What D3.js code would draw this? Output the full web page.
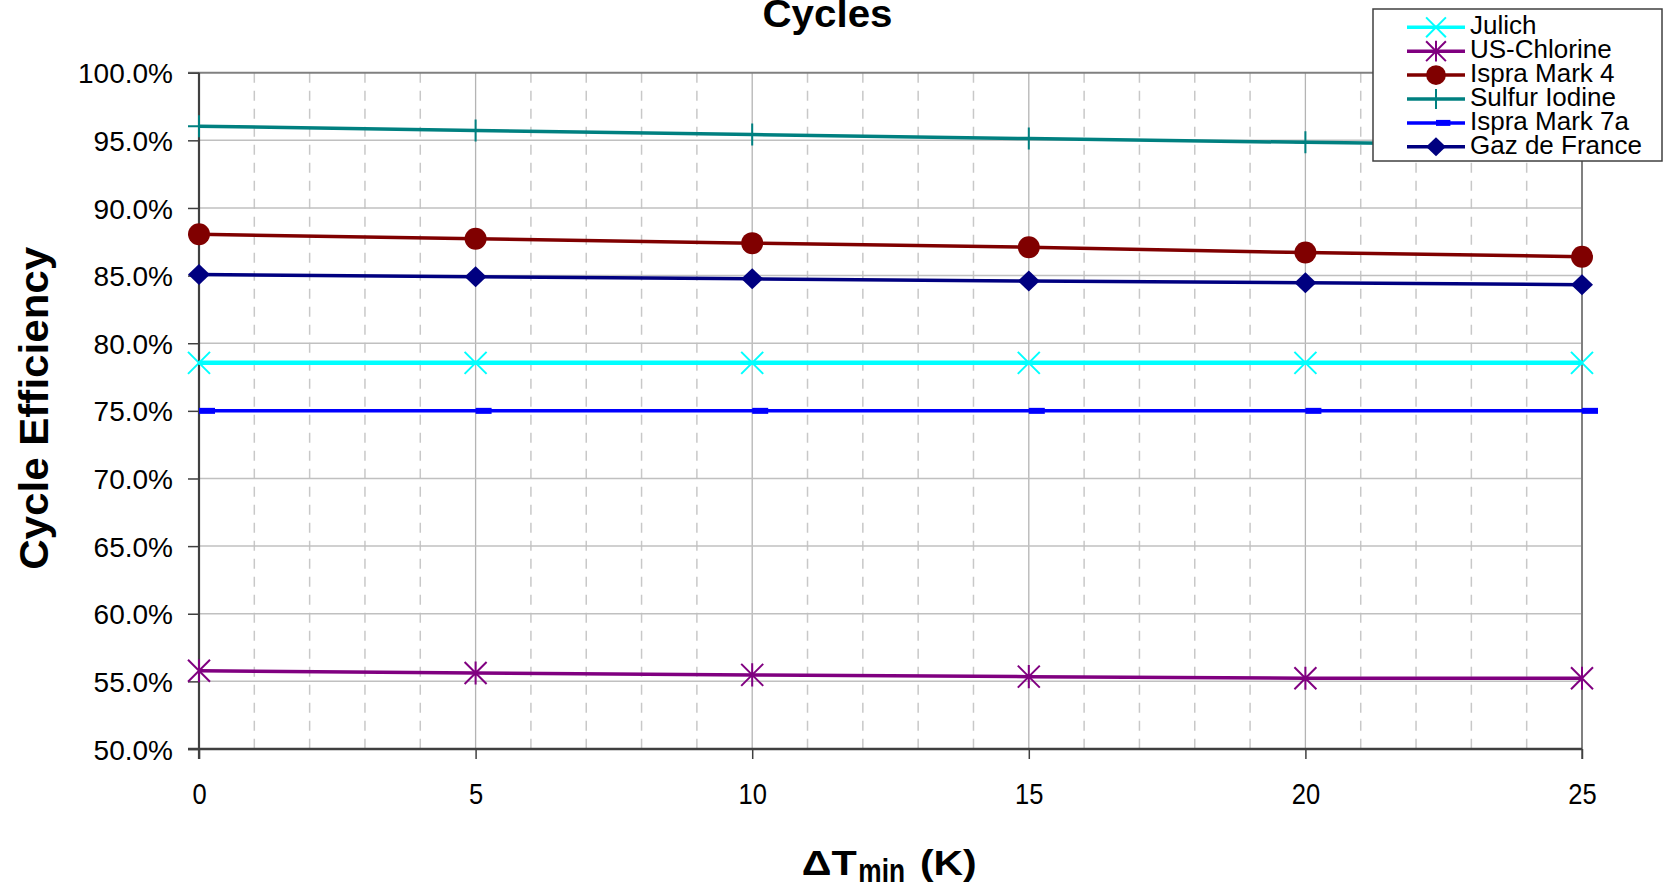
<!DOCTYPE html>
<html><head><meta charset="utf-8">
<script src="https://cdn.jsdelivr.net/npm/d3@7"></script>
<style>
html,body{margin:0;padding:0;background:#fff;overflow:hidden}
text{font-family:"Liberation Sans",Arial,sans-serif}
</style>
</head><body>
<svg id="chart" width="1663" height="886"></svg>
<script>
// ---------- data ----------
const xValues = [0, 5, 10, 15, 20, 25];
const julich       = [0.7855, 0.7855, 0.7855, 0.7855, 0.7855, 0.7855];
const usChlorine   = [0.5579, 0.5562, 0.5548, 0.5535, 0.5523, 0.5523];
const ispraMark4   = [0.8805, 0.8773, 0.8740, 0.8710, 0.8670, 0.8640];
const sulfurIodine = [0.9605, 0.9572, 0.9543, 0.9513, 0.9485, 0.9460];
const ispraMark7a  = [0.7500, 0.7500, 0.7500, 0.7500, 0.7500, 0.7500];
const gazDeFrance  = [0.8508, 0.8492, 0.8476, 0.8460, 0.8447, 0.8433];
const seriesNames  = ["Julich", "US-Chlorine", "Ispra Mark 4", "Sulfur Iodine", "Ispra Mark 7a", "Gaz de France"];
const seriesValues = [julich, usChlorine, ispraMark4, sulfurIodine, ispraMark7a, gazDeFrance];
const yTickValues  = [0.50, 0.55, 0.60, 0.65, 0.70, 0.75, 0.80, 0.85, 0.90, 0.95, 1.00];
const xTickValues  = [0, 5, 10, 15, 20, 25];
const xMinorValues = [1,2,3,4,6,7,8,9,11,12,13,14,16,17,18,19,21,22,23,24];
const chartTitle = "Cycles";
const yTitle = "Cycle Efficiency";

// ---------- styles ----------
const seriesColors  = ["#00FFFF", "#800080", "#800000", "#008080", "#0000FF", "#000080"];
const seriesMarkers = ["x", "asterisk", "circle", "plus", "dash", "diamond"];
const seriesWidths  = [4.5, 3.5, 3.5, 3.5, 3.5, 3.5];

const svg = d3.select("#chart");
svg.append("rect").attr("width", 1663).attr("height", 886).attr("fill", "#fff");

const x = d3.scaleLinear().domain([0, 25]).range([199, 1582]);
const y = d3.scaleLinear().domain([0.5, 1.0]).range([749, 72.7]);

// ---------- grid ----------
const grid = svg.append("g");
grid.selectAll(".minor").data(xMinorValues).join("line")
  .attr("x1", d => x(d)).attr("x2", d => x(d))
  .attr("y1", y(1.0)).attr("y2", y(0.5))
  .attr("stroke", "#c8c8c8").attr("stroke-width", 1.5).attr("stroke-dasharray", "10,8");
grid.selectAll(".major").data(xTickValues.filter(d => d > 0 && d < 25)).join("line")
  .attr("x1", d => x(d)).attr("x2", d => x(d))
  .attr("y1", y(1.0)).attr("y2", y(0.5))
  .attr("stroke", "#b4b4b4").attr("stroke-width", 1.3);
grid.selectAll(".hgrid").data(yTickValues.filter(d => d > 0.5 && d < 1.0)).join("line")
  .attr("x1", x(0)).attr("x2", x(25))
  .attr("y1", d => y(d)).attr("y2", d => y(d))
  .attr("stroke", "#c0c0c0").attr("stroke-width", 1.5);
// plot border top & right
grid.append("line").attr("x1", x(0) - 11).attr("x2", x(25)).attr("y1", y(1.0)).attr("y2", y(1.0))
  .attr("stroke", "#808080").attr("stroke-width", 2);
grid.append("line").attr("x1", x(25)).attr("x2", x(25)).attr("y1", y(1.0)).attr("y2", y(0.5) + 10)
  .attr("stroke", "#808080").attr("stroke-width", 2);

// ---------- axes ----------
const yAxis = d3.axisLeft(y).tickValues(yTickValues).tickFormat(d3.format(".1%"))
  .tickSizeInner(11).tickSizeOuter(0);
const gy = svg.append("g").attr("transform", `translate(${x(0)},0)`).call(yAxis);
gy.select(".domain").remove();
gy.selectAll(".tick line").attr("stroke", "#404040").attr("stroke-width", 1.5);
gy.selectAll(".tick text")
  .attr("fill", "#000").attr("font-size", 28)
  .attr("x", -26).attr("dy", "0.36em");

const xAxis = d3.axisBottom(x).tickValues(xTickValues).tickFormat(d3.format("d"))
  .tickSizeInner(10).tickSizeOuter(0);
const gx = svg.append("g").attr("transform", `translate(0,${y(0.5)})`).call(xAxis);
gx.select(".domain").remove();
gx.selectAll(".tick line").attr("stroke", "#404040").attr("stroke-width", 1.5);
gx.selectAll(".tick text")
  .attr("fill", "#000").attr("font-size", 29)
  .attr("transform", "scale(0.88,1)")
  .attr("y", 34).attr("dy", "0.71em");

// axis lines
svg.append("line").attr("x1", x(0)).attr("x2", x(0)).attr("y1", y(1.0)).attr("y2", y(0.5) + 10)
  .attr("stroke", "#404040").attr("stroke-width", 2.2);
svg.append("line").attr("x1", x(0) - 11).attr("x2", x(25)).attr("y1", y(0.5)).attr("y2", y(0.5))
  .attr("stroke", "#404040").attr("stroke-width", 2.5);

// ---------- markers ----------
function drawMarker(g, type, cx, cy, color, s) {
  const h = 11 * s;
  if (type === "x") {
    g.append("path").attr("d", `M${cx-h},${cy-h}L${cx+h},${cy+h}M${cx-h},${cy+h}L${cx+h},${cy-h}`)
      .attr("stroke", color).attr("stroke-width", 2).attr("fill", "none");
  } else if (type === "asterisk") {
    g.append("path").attr("d", `M${cx-h},${cy-h}L${cx+h},${cy+h}M${cx-h},${cy+h}L${cx+h},${cy-h}M${cx},${cy-h*1.05}L${cx},${cy+h*1.05}`)
      .attr("stroke", color).attr("stroke-width", 2).attr("fill", "none");
  } else if (type === "circle") {
    g.append("circle").attr("cx", cx).attr("cy", cy).attr("r", 11 * s).attr("fill", color);
  } else if (type === "plus") {
    g.append("path").attr("d", `M${cx-h},${cy}L${cx+h},${cy}M${cx},${cy-h}L${cx},${cy+h}`)
      .attr("stroke", color).attr("stroke-width", 2).attr("fill", "none");
  } else if (type === "dash") {
    g.append("rect").attr("x", cx).attr("y", cy - 3).attr("width", 16 * s).attr("height", 6).attr("fill", color);
  } else if (type === "diamond") {
    g.append("path").attr("d", `M${cx},${cy-10.5*s}L${cx+h},${cy}L${cx},${cy+10.5*s}L${cx-h},${cy}Z`)
      .attr("fill", color);
  }
}

// ---------- series ----------
const line = d3.line().x((d, i) => x(xValues[i])).y(d => y(d));
const gs = svg.append("g");
seriesValues.forEach((vals, si) => {
  gs.append("path").attr("d", line(vals)).attr("fill", "none")
    .attr("stroke", seriesColors[si]).attr("stroke-width", seriesWidths[si])
    .attr("stroke-linejoin", "round");
  vals.forEach((v, i) => drawMarker(gs, seriesMarkers[si], x(xValues[i]), y(v), seriesColors[si], 1));
});

// ---------- legend ----------
const lg = svg.append("g");
lg.append("rect").attr("x", 1373).attr("y", 9).attr("width", 289).attr("height", 152)
  .attr("fill", "#fff").attr("stroke", "#404040").attr("stroke-width", 1.5);
seriesNames.forEach((name, i) => {
  const cy = 27.3 + i * 23.9;
  lg.append("line").attr("x1", 1407).attr("x2", 1465).attr("y1", cy).attr("y2", cy)
    .attr("stroke", seriesColors[i]).attr("stroke-width", 3.5);
  drawMarker(lg, seriesMarkers[i], 1436, cy, seriesColors[i], 0.9);
  lg.append("text").attr("x", 1470).attr("y", cy + 6.8).attr("font-size", 26)
    .attr("fill", "#000").text(name);
});

// ---------- titles ----------
svg.append("text").attr("x", 827.5).attr("y", 27).attr("text-anchor", "middle")
  .attr("font-size", 39).attr("font-weight", "bold")
  .attr("textLength", 130).attr("lengthAdjust", "spacingAndGlyphs").text(chartTitle);

svg.append("text").attr("transform", "translate(47.5,408.3) rotate(-90)")
  .attr("text-anchor", "middle").attr("font-size", 40).attr("font-weight", "bold")
  .attr("textLength", 323).attr("lengthAdjust", "spacingAndGlyphs").text(yTitle);

svg.append("text").attr("x", 801.7).attr("y", 875).attr("font-size", 35).attr("font-weight", "bold")
  .attr("textLength", 55).attr("lengthAdjust", "spacingAndGlyphs").text("\u0394T");
svg.append("text").attr("x", 858.3).attr("y", 881.7).attr("font-size", 33).attr("font-weight", "bold")
  .attr("textLength", 46.7).attr("lengthAdjust", "spacingAndGlyphs").text("min");
svg.append("text").attr("x", 920).attr("y", 875).attr("font-size", 35).attr("font-weight", "bold")
  .attr("textLength", 56.7).attr("lengthAdjust", "spacingAndGlyphs").text("(K)");
</script>
</body></html>
